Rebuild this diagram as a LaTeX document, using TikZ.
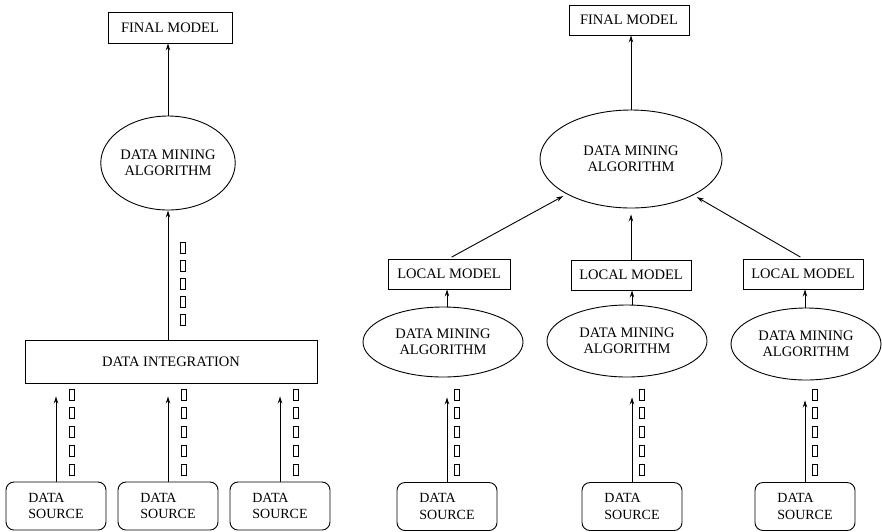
\documentclass[tikz,border=0pt]{standalone}
\usepackage{fontspec}
\setmainfont{Liberation Serif}
\usetikzlibrary{shapes.geometric,arrows.meta}
\begin{document}
\begin{tikzpicture}[x=1pt,y=-1pt,
  lbl/.style={font=\fontsize{14.5}{16.5}\selectfont},
  box/.style={lbl,draw,line width=0.9pt,rectangle,inner sep=0pt},
  ell/.style={lbl,draw,line width=0.9pt,ellipse,inner sep=0pt,align=center},
  src/.style={font=\fontsize{14}{16.5}\selectfont,draw,line width=0.9pt,rounded corners=8pt,minimum width=100pt,minimum height=48pt,align=left,inner sep=0pt},
  arr/.style={line width=0.9pt,-{Stealth[length=7pt,width=4.5pt]}},
  sq/.style={line width=0.8pt}]
\useasboundingbox (0,0) rectangle (882,531);
\newcommand{\pktcol}[3]{\foreach \i in {0,...,4} {\draw[sq] ({#1-2.5},{#2+\i*#3}) rectangle ++(5,11);}}

% ---------- left diagram ----------
\node[box,minimum width=124pt,minimum height=31pt] (fmL) at (170,27.5) {FINAL MODEL};
\node[ell,minimum width=128pt,minimum height=94pt] (emL) at (168,163) {DATA MINING\\ALGORITHM};
\node[box,minimum width=292pt,minimum height=43pt] (diL) at (171,361.5) {DATA INTEGRATION};
\node[src] (s1) at (56,506) {DATA\\SOURCE};
\node[src] (s2) at (168,506) {DATA\\SOURCE};
\node[src] (s3) at (280,506) {DATA\\SOURCE};

\draw[arr] (emL.north) -- (emL.north |- fmL.south);
\draw[arr] (emL.south |- diL.north) -- (emL.south);
\foreach \s in {s1,s2,s3} {\draw[arr,shorten >=13pt] (\s.north) -- (\s.north |- diL.south);}

\pktcol{183}{242}{18}
\pktcol{72}{389}{18.75}
\pktcol{184}{389}{18.75}
\pktcol{296}{389}{18.75}

% ---------- right diagram ----------
\node[box,minimum width=120pt,minimum height=30pt] (fmR) at (629,20) {FINAL MODEL};
\node[ell,minimum width=182pt,minimum height=98pt] (emR) at (631,159) {DATA MINING\\ALGORITHM};
\node[box,minimum width=122pt,minimum height=30pt] (lm1) at (449,274) {LOCAL MODEL};
\node[box,minimum width=120pt,minimum height=30pt] (lm2) at (631,275) {LOCAL MODEL};
\node[box,minimum width=120pt,minimum height=30pt] (lm3) at (803,274) {LOCAL MODEL};
\node[ell,minimum width=160pt,minimum height=70pt] (a1) at (443,342) {DATA MINING\\ALGORITHM};
\node[ell,minimum width=160pt,minimum height=72pt] (a2) at (627,341) {DATA MINING\\ALGORITHM};
\node[ell,minimum width=150pt,minimum height=72pt] (a3) at (806,344) {DATA MINING\\ALGORITHM};
\node[src] (r1) at (447,506.5) {DATA\\SOURCE};
\node[src] (r2) at (632,506.5) {DATA\\SOURCE};
\node[src] (r3) at (805,506.5) {DATA\\SOURCE};

\draw[arr] (emR.north) -- (emR.north |- fmR.south);
\draw[arr,shorten <=3pt,shorten >=4pt] (lm1.north) -- (emR);
\draw[arr,shorten >=6pt] (lm2.north) -- (emR.south);
\draw[arr,shorten <=3pt,shorten >=4pt] (lm3.north) -- (emR);
\foreach \k in {1,2,3} {
  \draw[arr] (r\k.north |- a\k.north) -- (r\k.north |- lm\k.south);
  \draw[arr,shorten >=20pt] (r\k.north) -- (r\k.north |- a\k.south);
}
\pktcol{457}{389}{18.75}
\pktcol{642}{389}{18.75}
\pktcol{815}{389}{18.75}
\end{tikzpicture}
\end{document}
